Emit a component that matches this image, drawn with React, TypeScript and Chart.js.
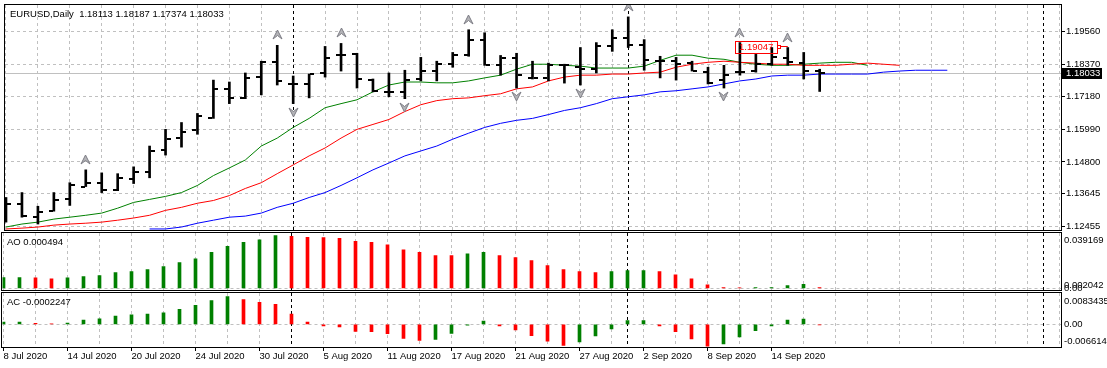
import { useEffect, useRef } from 'react';
import { Chart, registerables } from 'chart.js';

Chart.register(...registerables);

const FONT_FAMILY = '"Liberation Sans", Arial, sans-serif';
const FONT_SIZE = 9.5;
const FONT = `${FONT_SIZE}px ${FONT_FAMILY}`;
const GRID_COLOR = '#c0c0c0';

const symbolTitle = 'EURUSD,Daily';

// Daily OHLC bars, index 0 = 8 Jul 2020
const opens = [
  1.1325, 1.1325, 1.1278, 1.13, 1.1343, 1.139, 1.1404, 1.1379, 1.1419, 1.1444,
  1.1523, 1.1566, 1.1595, 1.1639, 1.1747, 1.1714, 1.179, 1.1844, 1.1765, 1.1765,
  1.1805, 1.1869, 1.1873, 1.1779, 1.1736, 1.1736, 1.1783, 1.1812, 1.1837, 1.1869,
  1.1924, 1.1833, 1.1859, 1.1787, 1.1787, 1.1833, 1.1826, 1.1819, 1.1902, 1.1934,
  1.1906, 1.1848, 1.1848, 1.1841, 1.1808, 1.1779, 1.1808, 1.1812, 1.1837, 1.1859,
  1.1841, 1.18113,
];
const highs = [
  1.135, 1.1368, 1.1318, 1.1368, 1.1404, 1.1451, 1.144, 1.1437, 1.1462, 1.1538,
  1.1599, 1.1624, 1.1657, 1.1779, 1.1772, 1.1805, 1.1848, 1.1906, 1.1794, 1.1801,
  1.1902, 1.1913, 1.1877, 1.1783, 1.1805, 1.1815, 1.1862, 1.1848, 1.188, 1.1963,
  1.1952, 1.1869, 1.1877, 1.1848, 1.1841, 1.1837, 1.1898, 1.1916, 1.1963, 1.201,
  1.1927, 1.1866, 1.1862, 1.1848, 1.1826, 1.1833, 1.1916, 1.1873, 1.1898, 1.1898,
  1.188, 1.18187,
];
const lows = [
  1.126, 1.1278, 1.1253, 1.13, 1.1321, 1.139, 1.1368, 1.1375, 1.1401, 1.1422,
  1.1505, 1.1534, 1.1581, 1.1639, 1.1693, 1.1711, 1.1725, 1.1761, 1.1693, 1.1714,
  1.179, 1.1812, 1.175, 1.1736, 1.1718, 1.1711, 1.1776, 1.1776, 1.1826, 1.1866,
  1.1833, 1.1797, 1.175, 1.1783, 1.1776, 1.1768, 1.1761, 1.1805, 1.1884, 1.1898,
  1.1815, 1.1787, 1.1779, 1.1812, 1.1765, 1.175, 1.1797, 1.1808, 1.1833, 1.1833,
  1.1783, 1.17374,
];
const closes = [
  1.1325, 1.1282, 1.1296, 1.1339, 1.1397, 1.1404, 1.1379, 1.1422, 1.1444, 1.152,
  1.1563, 1.1588, 1.1649, 1.1747, 1.1714, 1.1787, 1.1844, 1.1776, 1.1765, 1.1801,
  1.1859, 1.1869, 1.1783, 1.174, 1.1736, 1.1779, 1.1812, 1.1837, 1.1869, 1.1924,
  1.1833, 1.1859, 1.1797, 1.1787, 1.1833, 1.1833, 1.1819, 1.1902, 1.1934, 1.1909,
  1.1851, 1.1848, 1.1837, 1.1812, 1.1768, 1.1797, 1.1808, 1.1837, 1.1862, 1.1844,
  1.1812, 1.18033,
];

// Alligator lines (shifted forward past the last bar)
const lipsGreen = [
  1.1242, 1.1253, 1.126, 1.1271, 1.1278, 1.1285, 1.1293, 1.1311, 1.1332, 1.1343,
  1.1354, 1.1368, 1.1394, 1.143, 1.1458, 1.1487, 1.1538, 1.1567, 1.1606, 1.1639,
  1.1678, 1.1693, 1.1707, 1.1736, 1.1761, 1.1772, 1.1772, 1.1769, 1.1769, 1.1776,
  1.1787, 1.1797, 1.1819, 1.1837, 1.1837, 1.1833, 1.183, 1.1823, 1.1823, 1.1823,
  1.183, 1.1851, 1.187, 1.187, 1.1859, 1.1855, 1.1844, 1.1837, 1.1833, 1.1833,
  1.1837, 1.1841, 1.1844, 1.1844, 1.1833,
];
const teethRed = [
  1.1235, 1.1238, 1.1242, 1.1249, 1.1253, 1.1256, 1.126, 1.1267, 1.1275, 1.1285,
  1.1303, 1.1314, 1.1329, 1.1339, 1.1357, 1.1383, 1.1404, 1.1437, 1.1469, 1.1502,
  1.1531, 1.1567, 1.1599, 1.1617, 1.1635, 1.1664, 1.1689, 1.1704, 1.1711, 1.1714,
  1.1722, 1.1729, 1.1747, 1.1754, 1.1776, 1.179, 1.1797, 1.1797, 1.1801, 1.1801,
  1.1805, 1.1808, 1.1826, 1.1837, 1.1844, 1.1848, 1.1844, 1.1841, 1.1837, 1.1837,
  1.1833, 1.1833, 1.1833, 1.1837, 1.1841, 1.1837, 1.1833,
];
const jawBlue = [
  null, null, null, null, null, null, null, null, null, 1.1235,
  1.1235, 1.1242, 1.1256, 1.1267, 1.1278, 1.1282, 1.1293, 1.1314, 1.1329, 1.135,
  1.1368, 1.1394, 1.1422, 1.1451, 1.1476, 1.1502, 1.152, 1.1538, 1.1563, 1.1585,
  1.1606, 1.1621, 1.1632, 1.1639, 1.1653, 1.1668, 1.1678, 1.1693, 1.1711, 1.1718,
  1.1725, 1.1736, 1.174, 1.1747, 1.1754, 1.1765, 1.1776, 1.1783, 1.1794, 1.1797,
  1.1797, 1.1801, 1.1801, 1.1801, 1.1801, 1.1808, 1.1812, 1.1815, 1.1815, 1.1815,
];

const fractalUpBars = [5, 17, 21, 29, 39, 46, 49];
const fractalDownBars = [18, 25, 32, 36, 45];

const aoValues = [
  0.00797, 0.008, 0.00773, 0.00698, 0.00773, 0.00872, 0.00947, 0.01171, 0.01246, 0.01396,
  0.0162, 0.01919, 0.02193, 0.02666, 0.03115, 0.03414, 0.03613, 0.039169, 0.03863, 0.03788,
  0.0378, 0.03713, 0.03489, 0.03414, 0.0324, 0.02866, 0.02666, 0.02442, 0.0243, 0.02567,
  0.02666, 0.02442, 0.02293, 0.02068, 0.01695, 0.01389, 0.01237, 0.01162, 0.01237, 0.01313,
  0.0132, 0.01237, 0.0101, 0.00707, 0.00253, 0.0005, 0.0003, 0.0005, 0.0006, 0.00202,
  0.00303, 0.000494,
];
const acValues = [
  0.00069, 0.0007, 0.0003, 0.0001, 0.00039, 0.00128, 0.00168, 0.00247, 0.00286, 0.00306,
  0.00345, 0.00454, 0.00572, 0.0072, 0.0083435, 0.0075, 0.00661, 0.00602, 0.00306, 0.00069,
  -0.00049, -0.00079, -0.00217, -0.0022, -0.00286, -0.00424, -0.00484, -0.00454, -0.00276, -0.0003,
  0.00099, -0.00049, -0.00168, -0.00345, -0.00513, -0.0064, -0.0053, -0.0035, -0.0014, 0.0011,
  0.00115, -0.0005, -0.0022, -0.0044, -0.006614, -0.0059, -0.0038, -0.0019, -0.0005, 0.0013,
  0.0016, -0.0002247,
];

const priceTicks = [1.1956, 1.1837, 1.1718, 1.1599, 1.148, 1.13645, 1.12455];
const dateLabels = [
  '8 Jul 2020', '14 Jul 2020', '20 Jul 2020', '24 Jul 2020', '30 Jul 2020', '5 Aug 2020',
  '11 Aug 2020', '17 Aug 2020', '21 Aug 2020', '27 Aug 2020', '2 Sep 2020', '8 Sep 2020', '14 Sep 2020',
];
const dateLabelBars = [0, 4, 8, 12, 16, 20, 24, 28, 32, 36, 40, 44, 48];
const separatorBars = [18, 39, 65];

const aoAxisValues = [0.039169, 0.002042, 0];
const aoAxisLabels = ['0.039169', '0.002042', '0.00'];
const aoAxisBaselines = ['top', 'middle', 'middle'];
const acAxisValues = [0.0083435, 0, -0.006614];
const acAxisLabels = ['0.0083435', '0.00', '-0.006614'];
const acAxisBaselines = ['top', 'middle', 'bottom'];

const markedPrice = 1.19047;
const markedFromBar = 46;
const markedToBar = 49;

// scale ranges
const X_MIN = -0.0625;
const X_MAX_MAIN = 66.125;
const X_MAX_IND = 66.09375;
const MAIN_MIN = 1.12312;
const MAIN_MAX = 1.20534;
const AO_MIN = -0.00126;
const AO_MAX = 0.04112;
const AC_MIN = -0.006862;
const AC_MAX = 0.009462;

const GREEN = '#008000';
const RED = '#ff0000';
const last = closes.length - 1;

function zeroPad(s: any) {
  s.paddingTop = 0;
  s.paddingBottom = 0;
  s.paddingLeft = 0;
  s.paddingRight = 0;
}

function xAxis(max: number, withLabels: boolean, axisHeight: number) {
  return {
    type: 'linear',
    min: X_MIN,
    max,
    bounds: 'data',
    offset: false,
    afterBuildTicks: (s: any) => {
      const t: any[] = [];
      for (let v = 0; v <= 66; v += 2) t.push({ value: v });
      s.ticks = t;
    },
    afterFit: (s: any) => {
      s.height = axisHeight;
      zeroPad(s);
    },
    grid: {
      offset: false,
      color: GRID_COLOR,
      lineWidth: 1,
      drawTicks: withLabels,
      tickLength: 4,
      tickWidth: 1,
      tickColor: (c: any) => (c.tick && dateLabelBars.includes(c.tick.value) ? '#000' : 'rgba(0,0,0,0)'),
    },
    border: { display: false, dash: [3, 3] },
    ticks: {
      display: withLabels,
      autoSkip: false,
      maxRotation: 0,
      minRotation: 0,
      align: 'start',
      padding: 0,
      color: '#000',
      font: { family: FONT_FAMILY, size: FONT_SIZE },
      callback: (v: number) => {
        const k = dateLabelBars.indexOf(v);
        return k >= 0 ? dateLabels[k] : '';
      },
    },
  };
}

function indicatorY(min: number, max: number) {
  return {
    type: 'linear',
    position: 'right',
    min,
    max,
    bounds: 'data',
    afterBuildTicks: (s: any) => {
      s.ticks = [{ value: 0 }];
    },
    afterFit: (s: any) => {
      s.width = 46;
      zeroPad(s);
    },
    grid: { color: GRID_COLOR, drawTicks: false },
    border: { display: false, dash: [3, 3] },
    ticks: { display: false },
  };
}

function drawBorder(ctx: CanvasRenderingContext2D, a: any) {
  const l = Math.floor(a.left) - 0.5;
  const r = Math.floor(a.right) + 0.5;
  const t = Math.floor(a.top) - 0.5;
  const b = Math.floor(a.bottom) + 0.5;
  ctx.save();
  ctx.setLineDash([]);
  ctx.strokeStyle = '#000';
  ctx.lineWidth = 1;
  ctx.strokeRect(l, t, r - l, b - t);
  ctx.restore();
}

function drawSeparators(ctx: CanvasRenderingContext2D, x: any, a: any) {
  ctx.save();
  ctx.strokeStyle = '#000';
  ctx.lineWidth = 1;
  ctx.setLineDash([3, 3]);
  for (const b of separatorBars) {
    const px = Math.floor(x.getPixelForValue(b)) + 0.5;
    ctx.beginPath();
    ctx.moveTo(px, a.top);
    ctx.lineTo(px, a.bottom);
    ctx.stroke();
  }
  ctx.restore();
}

function makeTick(side: 'left' | 'right') {
  const c = document.createElement('canvas');
  c.width = 12;
  c.height = 2;
  const g = c.getContext('2d')!;
  g.fillStyle = '#000';
  if (side === 'left') g.fillRect(1, 0, 4, 2);
  else g.fillRect(7, 0, 4, 2);
  return c;
}

function makeArrow(up: boolean) {
  const c = document.createElement('canvas');
  c.width = 11;
  c.height = 40;
  const g = c.getContext('2d')!;
  g.beginPath();
  if (up) {
    g.moveTo(5.5, 5);
    g.lineTo(10, 14);
    g.lineTo(5.5, 10.5);
    g.lineTo(1, 14);
  } else {
    g.moveTo(5.5, 33);
    g.lineTo(10, 24);
    g.lineTo(5.5, 27.5);
    g.lineTo(1, 24);
  }
  g.closePath();
  g.fillStyle = '#b4b4b8';
  g.fill();
  g.strokeStyle = '#7c7c84';
  g.lineWidth = 1;
  g.stroke();
  return c;
}

const mainDecor = {
  id: 'mainDecor',
  beforeDatasetsDraw(chart: any) {
    const { ctx, chartArea: a, scales } = chart;
    ctx.save();
    ctx.strokeStyle = '#c0c0c0';
    ctx.lineWidth = 1;
    ctx.setLineDash([]);
    const py = Math.round(scales.y.getPixelForValue(closes[last])) + 0.5;
    ctx.beginPath();
    ctx.moveTo(a.left, py);
    ctx.lineTo(a.right, py);
    ctx.stroke();
    ctx.restore();
    drawSeparators(ctx, scales.x, a);
    ctx.imageSmoothingEnabled = false;
  },
  afterDraw(chart: any) {
    const { ctx, chartArea: a, scales } = chart;
    const { x, y } = scales;
    drawBorder(ctx, a);
    ctx.save();
    ctx.font = FONT;
    ctx.textBaseline = 'middle';
    ctx.textAlign = 'left';
    ctx.fillStyle = '#000';
    const header = `${symbolTitle}  ${opens[last].toFixed(5)} ${highs[last].toFixed(5)} ${lows[last].toFixed(5)} ${closes[last].toFixed(5)}`;
    ctx.fillText(header, a.left + 5, a.top + 9);

    // current price label on the axis
    const py = Math.round(y.getPixelForValue(closes[last]));
    ctx.fillStyle = '#000';
    ctx.fillRect(Math.floor(a.right) + 1, py - 5, 40, 11);
    ctx.fillStyle = '#fff';
    ctx.fillText(closes[last].toFixed(5), Math.floor(a.right) + 5, py + 0.5);

    // marked price label
    const lx = Math.floor(x.getPixelForValue(markedFromBar)) - 4 + 0.5;
    const ly = Math.round(y.getPixelForValue(markedPrice));
    ctx.strokeStyle = RED;
    ctx.lineWidth = 1;
    ctx.strokeRect(lx, ly - 5 + 0.5, 42, 12);
    ctx.fillStyle = RED;
    ctx.fillText(markedPrice.toFixed(5), lx + 3.5, ly + 1.5);
    ctx.strokeRect(lx + 42, ly - 1 + 0.5, 3, 3);
    ctx.beginPath();
    ctx.moveTo(lx + 45, ly + 0.5);
    ctx.lineTo(x.getPixelForValue(markedToBar), ly + 0.5);
    ctx.stroke();
    ctx.restore();
  },
};

function indicatorDecor(id: string, title: string, values: number[], labels: string[], baselines: string[]) {
  return {
    id,
    beforeDatasetsDraw(chart: any) {
      drawSeparators(chart.ctx, chart.scales.x, chart.chartArea);
    },
    afterDraw(chart: any) {
      const { ctx, chartArea: a, scales } = chart;
      drawBorder(ctx, a);
      ctx.save();
      ctx.font = FONT;
      ctx.fillStyle = '#000';
      ctx.textAlign = 'left';
      ctx.textBaseline = 'middle';
      ctx.fillText(title, Math.floor(a.left) + 5, a.top + 9);
      values.forEach((v, i) => {
        ctx.textBaseline = baselines[i] as CanvasTextBaseline;
        ctx.fillText(labels[i], Math.floor(a.right) + 3, scales.y.getPixelForValue(v));
      });
      ctx.restore();
    },
  };
}

const barColors = (vals: number[]) => vals.map((v, i) => (i === 0 || v >= vals[i - 1] ? GREEN : RED));

export default function App() {
  const mainRef = useRef<HTMLCanvasElement | null>(null);
  const aoRef = useRef<HTMLCanvasElement | null>(null);
  const acRef = useRef<HTMLCanvasElement | null>(null);

  useEffect(() => {
    document.body.style.margin = '0';
    const charts: any[] = [];
    const openImg = makeTick('left');
    const closeImg = makeTick('right');
    const upImg = makeArrow(true);
    const downImg = makeArrow(false);
    const idx = closes.map((_, i) => i);
    const lineDs = (data: (number | null)[], color: string) => ({
      type: 'line',
      data: data.map((v, i) => ({ x: i, y: v })),
      borderColor: color,
      borderWidth: 1,
      pointRadius: 0,
      tension: 0,
      spanGaps: false,
      order: 5,
    });

    const common = {
      responsive: false,
      animation: false,
      devicePixelRatio: 1,
      events: [],
      plugins: { legend: { display: false }, tooltip: { enabled: false } },
    };

    charts.push(
      new Chart(mainRef.current!, {
        type: 'bar',
        data: {
          datasets: [
            {
              type: 'bar',
              data: idx.map((i) => ({ x: i, y: [lows[i], highs[i]] })),
              backgroundColor: '#000',
              borderWidth: 0,
              barThickness: 2,
              order: 1,
            },
            {
              type: 'scatter',
              data: idx.map((i) => ({ x: i, y: opens[i] })),
              pointStyle: openImg,
              pointRadius: 3,
              order: 0,
            },
            {
              type: 'scatter',
              data: idx.map((i) => ({ x: i, y: closes[i] })),
              pointStyle: closeImg,
              pointRadius: 3,
              order: 0,
            },
            lineDs(jawBlue, '#0000ff'),
            lineDs(teethRed, '#ff0000'),
            lineDs(lipsGreen, '#008000'),
            {
              type: 'scatter',
              data: fractalUpBars.map((i) => ({ x: i, y: highs[i] })),
              pointStyle: upImg,
              pointRadius: 3,
              order: 2,
            },
            {
              type: 'scatter',
              data: fractalDownBars.map((i) => ({ x: i, y: lows[i] })),
              pointStyle: downImg,
              pointRadius: 3,
              order: 2,
            },
          ],
        },
        options: {
          ...common,
          layout: { padding: { top: 2, bottom: 6, left: 2, right: 0 } },
          scales: {
            x: xAxis(X_MAX_MAIN, false, 0),
            y: {
              type: 'linear',
              position: 'right',
              min: MAIN_MIN,
              max: MAIN_MAX,
              bounds: 'data',
              afterBuildTicks: (s: any) => {
                s.ticks = priceTicks.map((v) => ({ value: v }));
              },
              afterFit: (s: any) => {
                s.width = 46;
                zeroPad(s);
              },
              grid: { color: GRID_COLOR, drawTicks: true, tickLength: 4, tickColor: '#000' },
              border: { display: false, dash: [3, 3] },
              ticks: {
                color: '#000',
                padding: 1,
                font: { family: FONT_FAMILY, size: FONT_SIZE },
                callback: (v: number) => v.toFixed(5),
              },
            },
          },
        } as any,
        plugins: [mainDecor],
      } as any)
    );

    charts.push(
      new Chart(aoRef.current!, {
        type: 'bar',
        data: {
          datasets: [
            {
              data: aoValues.map((v, i) => ({ x: i, y: v })),
              backgroundColor: barColors(aoValues),
              borderWidth: 0,
              barThickness: 3,
            },
          ],
        },
        options: {
          ...common,
          layout: { padding: { top: 2, bottom: 2, left: 2.5, right: 0 } },
          scales: { x: xAxis(X_MAX_IND, false, 0), y: indicatorY(AO_MIN, AO_MAX) },
        } as any,
        plugins: [indicatorDecor('aoDecor', `AO ${aoValues[last]}`, aoAxisValues, aoAxisLabels, aoAxisBaselines)],
      } as any)
    );

    charts.push(
      new Chart(acRef.current!, {
        type: 'bar',
        data: {
          datasets: [
            {
              data: acValues.map((v, i) => ({ x: i, y: v })),
              backgroundColor: barColors(acValues),
              borderWidth: 0,
              barThickness: 3,
            },
          ],
        },
        options: {
          ...common,
          layout: { padding: { top: 2, bottom: 0, left: 2.5, right: 0 } },
          scales: { x: xAxis(X_MAX_IND, true, 21), y: indicatorY(AC_MIN, AC_MAX) },
        } as any,
        plugins: [indicatorDecor('acDecor', `AC ${acValues[last]}`, acAxisValues, acAxisLabels, acAxisBaselines)],
      } as any)
    );

    return () => charts.forEach((c) => c.destroy());
  }, []);

  const cs = (top: number, h: number): any => ({
    position: 'absolute',
    left: 0,
    top,
    width: 1107,
    height: h,
    display: 'block',
  });

  return (
    <div style={{ position: 'relative', width: 1107, height: 368, background: '#fff', overflow: 'hidden' }}>
      <canvas ref={mainRef} width={1107} height={236} style={cs(0, 236)} />
      <canvas ref={aoRef} width={1107} height={61} style={cs(231, 61)} />
      <canvas ref={acRef} width={1107} height={77} style={cs(291, 77)} />
    </div>
  );
}
